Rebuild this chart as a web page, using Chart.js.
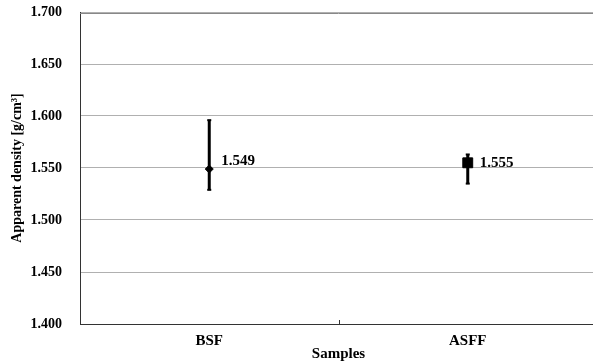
<!DOCTYPE html>
<html>
<head>
<meta charset="utf-8">
<script src="https://cdn.jsdelivr.net/npm/chart.js@4.4.0/dist/chart.umd.min.js"></script>
<style>
html,body{margin:0;padding:0;background:#fff;overflow:hidden;}
#wrap{width:593px;height:363px;overflow:hidden;}
</style>
</head>
<body>
<div id="wrap"><canvas id="c" width="597" height="363"></canvas></div>
<script>
const categories = ["BSF", "ASFF"];
const meanValues = [1.549, 1.555];
const upperValues = [1.596, 1.563];
const lowerValues = [1.529, 1.535];
const valueLabels = ["1.549", "1.555"];
const yTicks = [1.4, 1.45, 1.5, 1.55, 1.6, 1.65, 1.7];

const FONT = "'Liberation Serif','Times New Roman',serif";
const labelDy = [-8, 0];

const errorBars = {
  id: 'errorBars',
  afterDatasetsDraw(chart) {
    const ctx = chart.ctx;
    const xs = chart.scales.x, ys = chart.scales.y;
    ctx.save();
    ctx.strokeStyle = '#000';
    ctx.fillStyle = '#000';
    categories.forEach((c, i) => {
      const x = xs.getPixelForValue(i);
      const yU = ys.getPixelForValue(upperValues[i]);
      const yL = ys.getPixelForValue(lowerValues[i]);
      ctx.lineWidth = 3;
      ctx.beginPath(); ctx.moveTo(x, yU); ctx.lineTo(x, yL); ctx.stroke();
      ctx.lineWidth = 2;
      ctx.beginPath(); ctx.moveTo(x - 2, yU); ctx.lineTo(x + 2, yU); ctx.stroke();
      ctx.beginPath(); ctx.moveTo(x - 2, yL); ctx.lineTo(x + 2, yL); ctx.stroke();
      const ym = ys.getPixelForValue(meanValues[i]);
      ctx.font = "bold 15px " + FONT;
      ctx.textBaseline = 'middle';
      ctx.textAlign = 'left';
      ctx.fillText(valueLabels[i], x + 12, ym + labelDy[i]);
    });
    ctx.strokeStyle = '#888';
    ctx.lineWidth = 1;
    const yt = Math.round(ys.getPixelForValue(1.7)) + 0.5;
    ctx.beginPath(); ctx.moveTo(chart.chartArea.left, yt + 1); ctx.lineTo(chart.chartArea.right, yt + 1); ctx.stroke();
    const xm = Math.round((xs.getPixelForValue(0) + xs.getPixelForValue(1)) / 2) + 0.5;
    const yb = chart.chartArea.bottom;
    ctx.strokeStyle = '#333';
    ctx.beginPath(); ctx.moveTo(xm, yb); ctx.lineTo(xm, yb - 4); ctx.stroke();
    ctx.restore();
  }
};

new Chart(document.getElementById('c'), {
  type: 'line',
  data: {
    labels: categories,
    datasets: [{
      data: meanValues,
      showLine: false,
      pointStyle: ['rectRot', 'rect'],
      pointRadius: [4, 7],
      pointBackgroundColor: '#000',
      pointBorderColor: '#000',
      pointBorderWidth: 1
    }]
  },
  options: {
    responsive: false,
    animation: false,
    devicePixelRatio: 1,
    layout: { autoPadding: false, padding: { top: 12, right: 0, left: 0, bottom: 0 } },
    plugins: { legend: { display: false }, tooltip: { enabled: false } },
    scales: {
      x: {
        offset: true,
        afterFit(s) { s.height = 39; s.paddingLeft = 0; s.paddingRight = 0; },
        grid: { display: false, drawTicks: false },
        border: { display: true, color: '#333', width: 1 },
        ticks: { color: '#000', font: { family: FONT, size: 15, weight: 'bold' }, padding: 8 },
        title: { display: true, text: 'Samples', color: '#000', font: { family: FONT, size: 15, weight: 'bold' }, padding: { top: -2, bottom: 0 } }
      },
      y: {
        min: 1.4, max: 1.7,
        afterFit(s) { s.width = 80; s.paddingTop = 0; s.paddingBottom = 0; },
        afterBuildTicks(scale) { scale.ticks = yTicks.map(v => ({ value: v })); },
        grid: { color: '#b0b0b0', lineWidth: 1, drawTicks: false },
        border: { display: true, color: '#333', width: 1 },
        ticks: {
          color: '#000', padding: 18,
          font: { family: FONT, size: 14, weight: 'bold' },
          callback: v => Number(v).toFixed(3)
        },
        title: { display: true, text: 'Apparent density [g/cm³]', color: '#000', font: { family: FONT, size: 14, weight: 'bold' }, padding: { top: 9, bottom: 0 } }
      }
    }
  },
  plugins: [errorBars]
});
</script>
</body>
</html>
